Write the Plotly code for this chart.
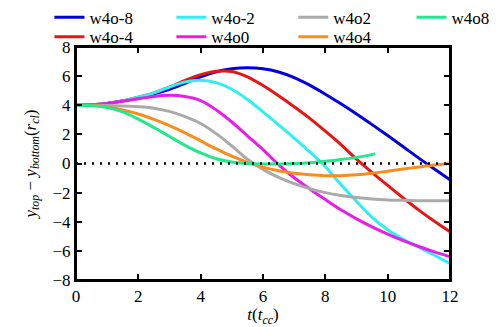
import plotly.graph_objects as go

# time axis (t_cc)
t = [0, 0.5, 1, 1.5, 2, 2.5, 3, 3.5, 4, 4.5, 5, 5.5, 6, 6.5, 7, 7.5, 8, 8.5, 9, 9.5, 10, 10.5, 11, 11.5, 12]

w4o_m8 = [4.0, 4.03, 4.12, 4.3, 4.52, 4.78, 5.1, 5.5, 5.95, 6.3, 6.5, 6.57, 6.5, 6.28, 5.9, 5.38,
          4.76, 4.1, 3.4, 2.67, 1.92, 1.15, 0.37, -0.38, -1.12]
w4o_m4 = [4.0, 4.03, 4.12, 4.3, 4.55, 4.85, 5.25, 5.7, 6.1, 6.33, 6.32, 5.95, 5.35, 4.65, 3.9, 3.1,
          2.22, 1.3, 0.3, -0.62, -1.5, -2.37, -3.2, -3.97, -4.69]
w4o_m2 = [4.0, 4.03, 4.12, 4.3, 4.55, 4.85, 5.25, 5.6, 5.72, 5.55, 5.1, 4.4, 3.55, 2.65, 1.75, 0.8,
          -0.22, -1.45, -2.6, -3.7, -4.55, -5.2, -5.75, -6.3, -6.86]
w4o0 = [4.0, 4.03, 4.12, 4.28, 4.45, 4.6, 4.68, 4.6, 4.32, 3.68, 2.85, 1.9, 0.95, -0.08, -0.98, -1.75,
        -2.48, -3.18, -3.8, -4.35, -4.85, -5.3, -5.7, -6.07, -6.4]
w4o2 = [4.0, 4.0, 3.98, 3.95, 3.9, 3.8, 3.58, 3.22, 2.75, 2.05, 1.2, 0.3, -0.4, -0.95, -1.38, -1.73,
        -2.0, -2.2, -2.34, -2.44, -2.5, -2.53, -2.55, -2.56, -2.56]
w4o4 = [4.0, 3.98, 3.88, 3.68, 3.4, 3.03, 2.6, 2.1, 1.55, 1.0, 0.5, 0.08, -0.25, -0.5, -0.67, -0.78,
        -0.84, -0.84, -0.78, -0.67, -0.53, -0.38, -0.24, -0.11, 0.0]
t_w4o8 = [0, 0.5, 1, 1.5, 2, 2.5, 3, 3.5, 4, 4.5, 5, 5.5, 6, 6.5, 7, 7.5, 8, 8.5, 9, 9.6]
w4o8 = [4.0, 3.97, 3.85, 3.55, 3.05, 2.47, 1.85, 1.25, 0.73, 0.33, 0.1, 0.0, -0.03, -0.03, 0.0, 0.06,
        0.15, 0.27, 0.42, 0.66]

# name, x, y, colour, legend column, legend row
series = [
    ("w4o-8", t, w4o_m8, "#0000dd", 0, 0),
    ("w4o-4", t, w4o_m4, "#e81515", 0, 1),
    ("w4o-2", t, w4o_m2, "#2ef0f0", 1, 0),
    ("w4o0", t, w4o0, "#e81ee8", 1, 1),
    ("w4o2", t, w4o2, "#aaaaaa", 2, 0),
    ("w4o4", t, w4o4, "#fa8c1e", 2, 1),
    ("w4o8", t_w4o8, w4o8, "#22e88e", 3, 0),
]

col_x = [-0.071, 0.255, 0.581, 0.897]
row_y = [1.2035, 1.119]

fig = go.Figure()
legends = {}
for i, (name, x, y, col, c, r) in enumerate(series):
    key = "legend" if i == 0 else f"legend{i + 1}"
    fig.add_trace(go.Scatter(x=x, y=y, name=name, mode="lines", line_shape="spline",
                             line=dict(color=col, width=3), legend=key))
    legends[key] = dict(x=col_x[c], y=row_y[r], xanchor="left", yanchor="top",
                        orientation="v", font=dict(size=17), bgcolor="rgba(0,0,0,0)")

# zero reference line
fig.add_trace(go.Scatter(x=[0, 12], y=[0, 0], mode="lines", showlegend=False,
                         line=dict(color="black", width=2.5, dash="2px,6px")))

axis_common = dict(showline=True, linecolor="black", linewidth=2, mirror="ticks",
                   ticks="inside", ticklen=6, tickwidth=1.5, tickcolor="black",
                   showgrid=False, zeroline=False, automargin=False,
                   tickfont=dict(size=17, color="black"))

fig.update_xaxes(range=[0, 12], dtick=2, title=dict(text="<i>t</i>(<i>t<sub>cc</sub></i>)",
                 font=dict(size=17), standoff=0), **axis_common)
fig.update_yaxes(range=[-8, 8], dtick=2,
                 title=dict(text="<i>y<sub>top</sub></i> − <i>y<sub>bottom</sub></i>(<i>r<sub>cl</sub></i>)",
                            font=dict(size=17), standoff=12), **axis_common)

# frame round the plot area
fig.add_shape(type="rect", xref="paper", yref="paper", x0=0, x1=1, y0=0, y1=1,
              line=dict(color="black", width=2), layer="above")

fig.update_layout(
    width=493, height=319,
    margin=dict(l=68, r=51, t=39, b=47, autoexpand=False),
    plot_bgcolor="white", paper_bgcolor="white",
    font=dict(family="Liberation Serif", color="black", size=16),
    **legends,
)

fig.write_html("out.html")
